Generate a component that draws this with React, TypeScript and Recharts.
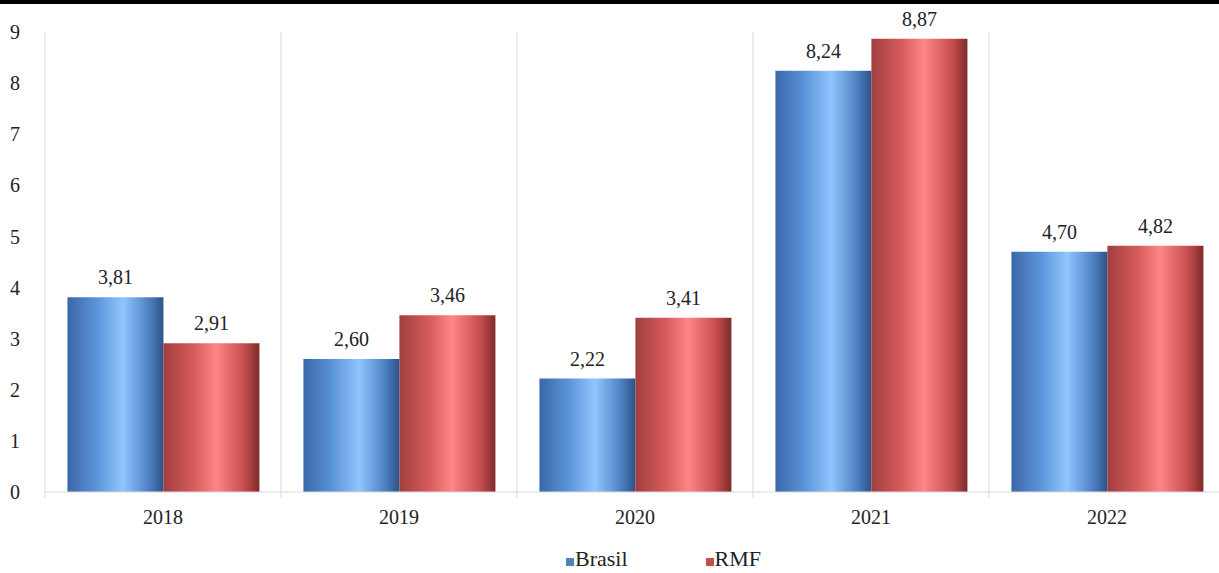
import React from 'react'
import { BarChart, Bar, XAxis, YAxis, CartesianGrid, LabelList } from 'recharts'

const years = ['2018', '2019', '2020', '2021', '2022']
const brasil = [3.81, 2.6, 2.22, 8.24, 4.7]
const rmf = [2.91, 3.46, 3.41, 8.87, 4.82]
const yTicks = [0, 1, 2, 3, 4, 5, 6, 7, 8, 9]
const seriesNames = ['Brasil', 'RMF']
const seriesColors = ['#4f81bd', '#c0504d']

const chartData = years.map((year, i) => ({ year, brasil: brasil[i], rmf: rmf[i] }))

const CHART_W = 1240
const CHART_H = 573
const MARGIN = { top: 32, right: 15, left: 0, bottom: 41 }
const Y_W = 45
const PLOT_W = CHART_W - MARGIN.left - MARGIN.right - Y_W
const BAND = PLOT_W / years.length
const FONT = '"Liberation Serif", "Times New Roman", serif'

const fmt = (v: any) => Number(v).toFixed(2).replace('.', ',')

function YearTick(props: any) {
  const { x, y, payload } = props
  const edge = x - BAND / 2
  return (
    <g>
      <line x1={edge} y1={y} x2={edge} y2={y + 6} stroke="#d9d9d9" />
      <text x={x} y={y + 32} textAnchor="middle" fontSize={20} fill="#222" fontFamily={FONT}>
        {payload.value}
      </text>
    </g>
  )
}

export default function App() {
  return (
    <div
      style={{
        position: 'absolute',
        left: 0,
        top: 0,
        width: 1219,
        height: 573,
        overflow: 'hidden',
        background: '#fff',
      }}
    >
      <div style={{ position: 'absolute', left: 0, top: 0, width: 1219, height: 4, background: '#000', zIndex: 2 }} />
      <BarChart
        width={CHART_W}
        height={CHART_H}
        data={chartData}
        margin={MARGIN}
        barCategoryGap="9.5%"
        barGap={0}
      >
        <defs>
          <linearGradient id="gBlue" x1="0" y1="0" x2="1" y2="0">
            <stop offset="0%" stopColor="#3a68a8" />
            <stop offset="30%" stopColor="#5b93d8" />
            <stop offset="58%" stopColor="#8fc6ff" />
            <stop offset="85%" stopColor="#4f80c2" />
            <stop offset="100%" stopColor="#2c5289" />
          </linearGradient>
          <linearGradient id="gRed" x1="0" y1="0" x2="1" y2="0">
            <stop offset="0%" stopColor="#a23e3e" />
            <stop offset="30%" stopColor="#d45a5a" />
            <stop offset="55%" stopColor="#ff8686" />
            <stop offset="85%" stopColor="#c44c4c" />
            <stop offset="100%" stopColor="#7e2b2b" />
          </linearGradient>
        </defs>
        <CartesianGrid
          horizontal={false}
          stroke="#d9d9d9"
          verticalCoordinatesGenerator={({ offset }: any) =>
            years.map((_, i) => offset.left + (i * offset.width) / years.length)
          }
        />
        <XAxis
          dataKey="year"
          height={40}
          tickLine={false}
          tickSize={0}
          tickMargin={0}
          axisLine={{ stroke: '#d9d9d9' }}
          tick={<YearTick />}
          interval={0}
        />
        <YAxis
          width={Y_W}
          domain={[0, 9]}
          ticks={yTicks}
          axisLine={false}
          tickLine={false}
          tickSize={0}
          tickMargin={25}
          tick={{ fontSize: 20, fill: '#222', fontFamily: FONT }}
        />
        <Bar dataKey="brasil" name={seriesNames[0]} fill="url(#gBlue)" isAnimationActive={false}>
          <LabelList
            dataKey="brasil"
            position="top"
            offset={13}
            formatter={fmt}
            style={{ fontSize: 20, fill: '#222', fontFamily: FONT }}
          />
        </Bar>
        <Bar dataKey="rmf" name={seriesNames[1]} fill="url(#gRed)" isAnimationActive={false}>
          <LabelList
            dataKey="rmf"
            position="top"
            offset={13}
            formatter={fmt}
            style={{ fontSize: 20, fill: '#222', fontFamily: FONT }}
          />
        </Bar>
      </BarChart>
      <div
        style={{
          position: 'absolute',
          left: 566,
          top: 547,
          display: 'flex',
          gap: 78,
          fontFamily: FONT,
          fontSize: 22,
          color: '#222',
          lineHeight: '24px',
        }}
      >
        {seriesNames.map((name, i) => (
          <div key={name} style={{ display: 'flex', alignItems: 'flex-end' }}>
            <span
              style={{
                display: 'inline-block',
                width: 8,
                height: 8,
                marginBottom: 5,
                marginRight: 1,
                background: seriesColors[i],
              }}
            />
            <span>{name}</span>
          </div>
        ))}
      </div>
    </div>
  )
}
